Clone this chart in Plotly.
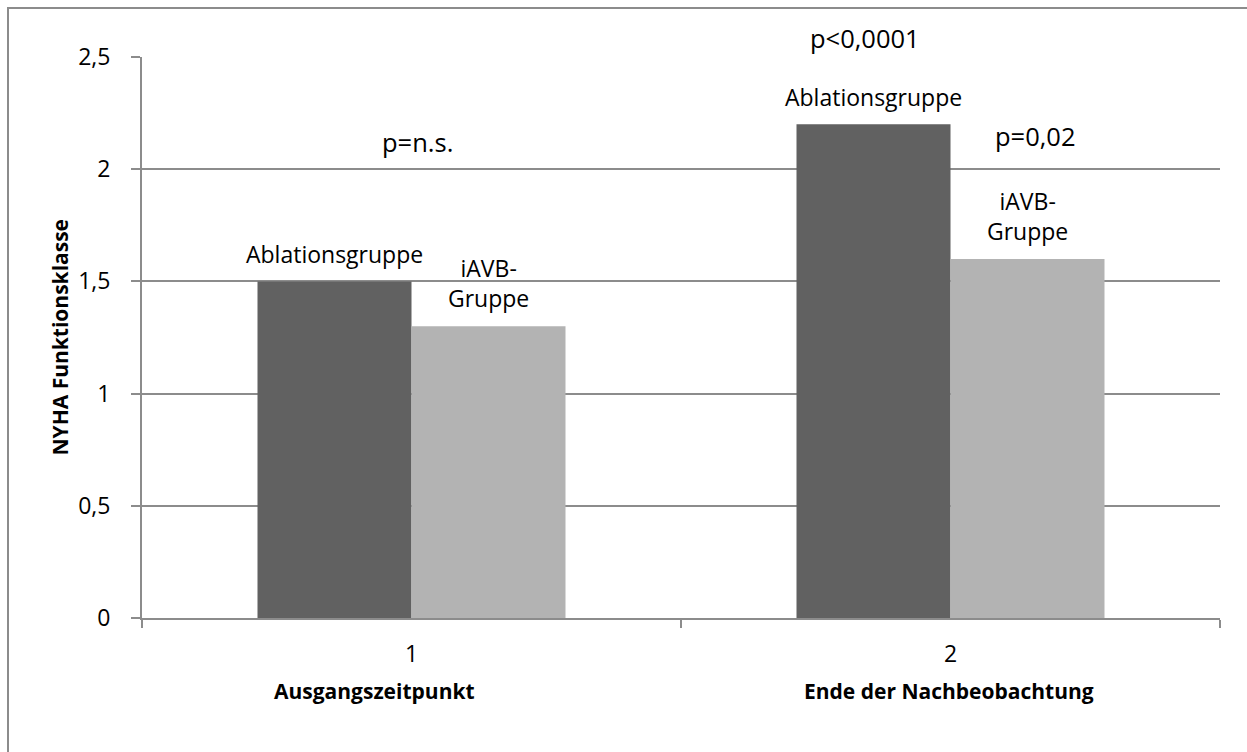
import plotly.graph_objects as go

# NYHA functional class per group, at baseline and at end of follow-up
timepoints = ["1", "2"]
timepoint_names = ["Ausgangszeitpunkt", "Ende der Nachbeobachtung"]
ablation_values = [1.5, 2.2]
iavb_values = [1.3, 1.6]
group_labels = ["Ablationsgruppe", "iAVB-<br>Gruppe"]
p_labels = ["p=n.s.", "p<0,0001", "p=0,02"]

FONT = "Open Sans"
DARK = "#616161"
LIGHT = "#b3b3b3"
GRID = "#8c8c8c"

W, H = 1247, 752
M = dict(l=142, r=27, t=57, b=134)
plot_w = W - M["l"] - M["r"]
plot_h = H - M["t"] - M["b"]

fig = go.Figure()
fig.add_trace(go.Bar(x=timepoints, y=ablation_values, name="Ablationsgruppe",
                     marker=dict(color=DARK, line=dict(width=0))))
fig.add_trace(go.Bar(x=timepoints, y=iavb_values, name="iAVB-Gruppe",
                     marker=dict(color=LIGHT, line=dict(width=0))))

annotations = []
# half a bar width in pixels, used to centre labels above each bar
cat_px = plot_w / len(timepoints)
bargap = 0.75 / 1.75
half_bar = cat_px * (1 - bargap) / 4

# horizontal nudges (px) of the bold time-point captions
caption_shift = [-37, -2]

# annotations on the category axis are positioned by category index
for i in range(len(timepoints)):
    annotations.append(dict(x=i, y=ablation_values[i], xref="x", yref="y",
                            text=group_labels[0], showarrow=False,
                            xshift=-half_bar, yshift=27, yanchor="middle",
                            font=dict(family=FONT, size=23, color="black")))
    annotations.append(dict(x=i, y=iavb_values[i], xref="x", yref="y",
                            text=group_labels[1], showarrow=False,
                            xshift=half_bar, yshift=43, yanchor="middle",
                            font=dict(family=FONT, size=23, color="black")))
    annotations.append(dict(x=i, y=-0.13, xref="x", yref="paper",
                            text="<b>%s</b>" % timepoint_names[i], showarrow=False,
                            xshift=caption_shift[i], yanchor="middle",
                            font=dict(family=FONT, size=21, color="black")))

# significance notes
P_FONT = dict(family=FONT, size=25.5, color="black")
annotations.append(dict(x=0, y=2.12, xref="x", yref="y", text=p_labels[0],
                        showarrow=False, xshift=6, yanchor="middle", font=P_FONT))
annotations.append(dict(x=1, y=1.0, xref="x", yref="paper", text=p_labels[1],
                        showarrow=False, xshift=-86, yshift=19, yanchor="middle",
                        font=P_FONT))
annotations.append(dict(x=1, y=2.146, xref="x", yref="y", text=p_labels[2],
                        showarrow=False, xshift=85, yanchor="middle", font=P_FONT))

# vertical axis title
annotations.append(dict(x=(59 - M["l"]) / plot_w, y=0.5, xref="paper", yref="paper",
                        text="<b>NYHA Funktionsklasse</b>", textangle=-90,
                        showarrow=False, xanchor="center", yanchor="middle",
                        font=dict(family=FONT, size=21, color="black")))

# chart frame
shapes = [dict(type="rect", xref="paper", yref="paper",
               x0=(8 - M["l"]) / plot_w, x1=(W + 20 - M["l"]) / plot_w,
               y0=(H - M["b"] - (H + 20)) / plot_h, y1=(H - M["b"] - 8) / plot_h,
               line=dict(color=GRID, width=2), fillcolor="rgba(0,0,0,0)",
               layer="below")]

fig.update_layout(
    width=W, height=H, margin=M,
    paper_bgcolor="white", plot_bgcolor="white",
    barmode="group", bargap=bargap, bargroupgap=0,
    showlegend=False, separators=", ",
    font=dict(family=FONT, size=23, color="black"),
    annotations=annotations, shapes=shapes,
    xaxis=dict(type="category", categoryorder="array", categoryarray=timepoints,
               range=[-0.5, len(timepoints) - 0.5],
               tickson="boundaries", ticks="outside", ticklen=8, tickwidth=2,
               tickcolor=GRID, showline=True, linecolor=GRID, linewidth=2,
               showgrid=False, ticklabelstandoff=14,
               tickfont=dict(family=FONT, size=23, color="black")),
    yaxis=dict(range=[0, 2.5], tick0=0, dtick=0.5, ticks="outside", ticklen=9,
               tickwidth=2, tickcolor=GRID, showline=True, linecolor=GRID,
               linewidth=2, showgrid=True, gridcolor=GRID, gridwidth=2,
               zeroline=False, ticklabelstandoff=16,
               tickfont=dict(family=FONT, size=23, color="black")),
)

fig.write_html("out.html")
